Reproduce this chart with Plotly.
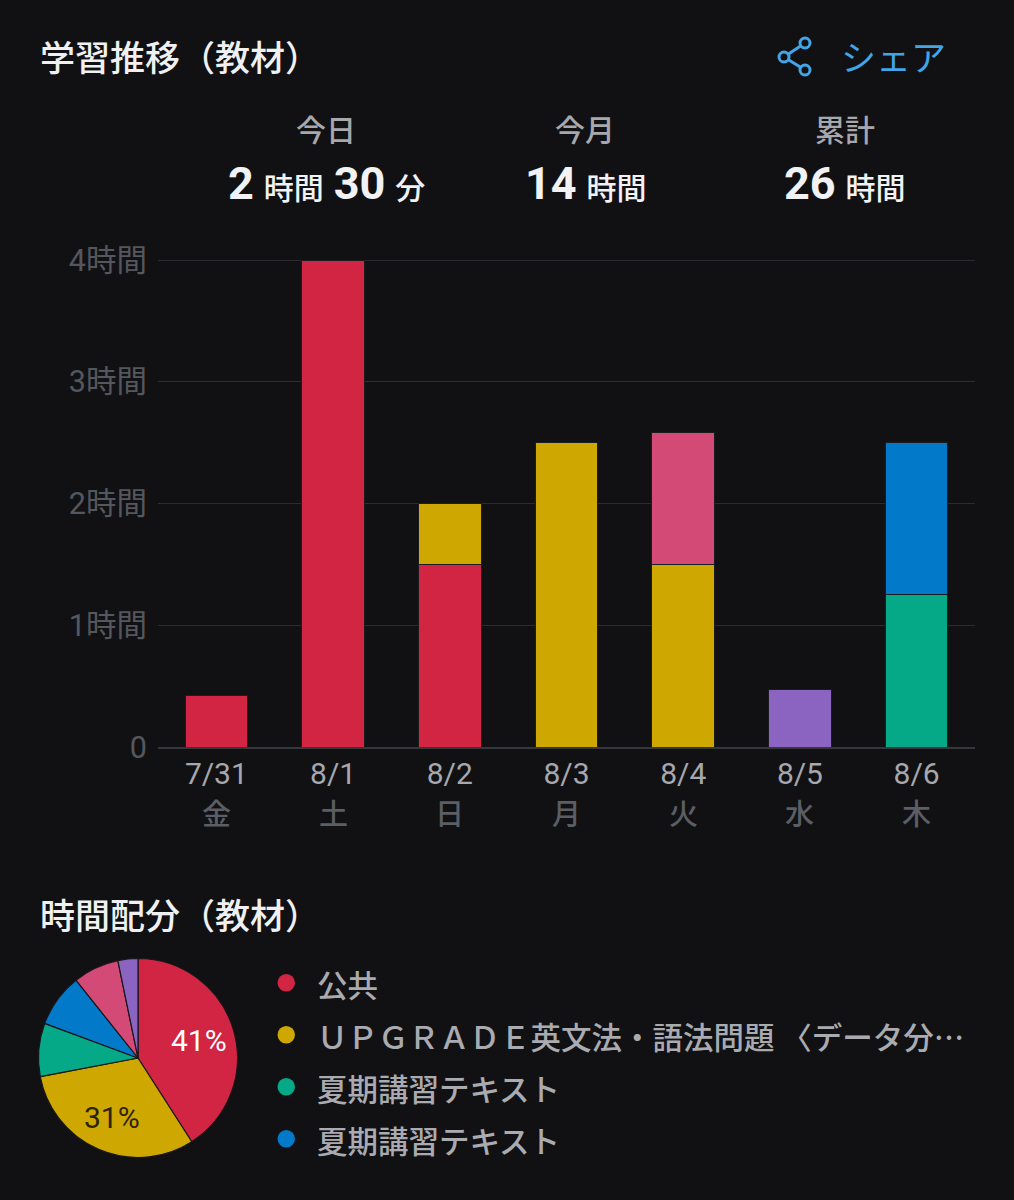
import plotly.graph_objects as go

W, H = 1014, 1200
FONT = "Roboto, 'Noto Sans CJK JP', sans-serif"
CJK = "'Noto Sans CJK JP', sans-serif"
BG = "#111114"

dates = ["7/31", "8/1", "8/2", "8/3", "8/4", "8/5", "8/6"]
weekdays = ["金", "土", "日", "月", "火", "水", "木"]
subject_names = ["公共", "ＵＰＧＲＡＤＥ英文法・語法問題 〈データ分…", "夏期講習テキスト", "夏期講習テキスト", "その他A", "その他B"]
subject_colors = ["#d12543", "#cea800", "#05a887", "#0279c9", "#d34a76", "#8b63c0"]

kokyo = [0.42, 4, 1.5, 0, 0, 0, 0]
upgrade = [0, 0, 0.5, 2.5, 1.5, 0, 0]
kaki1 = [0, 0, 0, 0, 0, 0, 1.25]
kaki2 = [0, 0, 0, 0, 0, 0, 1.25]
other_a = [0, 0, 0, 0, 1.08, 0, 0]
other_b = [0, 0, 0, 0, 0, 0.47, 0]
bar_series = [kokyo, upgrade, kaki1, kaki2, other_a, other_b]

y_ticks = [0, 1, 2, 3, 4]
y_labels = ["0", "1時間", "2時間", "3時間", "4時間"]
pie_values = [sum(s) for s in bar_series]
pie_labels = ["41%", "31%"]
legend_count = 4

stat_heads = ["今日", "今月", "累計"]


def px(x):
    return x / W


def py(y):
    return 1 - y / H


fig = go.Figure()
for name, vals, col in zip(subject_names, bar_series, subject_colors):
    fig.add_bar(x=dates, y=vals, name=name, marker=dict(color=col, line=dict(color="#1c1c20", width=1)),
                width=0.535, showlegend=False, xaxis="x", yaxis="y")

fig.add_pie(labels=[f"{i}" for i in range(len(pie_values))], values=pie_values, sort=False, direction="clockwise",
            rotation=0, marker=dict(colors=subject_colors, line=dict(color="#17171a", width=1.2)),
            textinfo="none",
            domain=dict(x=[px(38.5), px(237.5)], y=[py(1157.5), py(958.5)]), showlegend=False)


def note(x, y, text, size, color, anchor="left", weight=400, family=FONT):
    fig.add_annotation(x=px(x), y=py(y), xref="paper", yref="paper",
                       text=text, showarrow=False, xanchor=anchor, yanchor="middle", align=anchor,
                       font=dict(family=family, size=size, color=color, weight=weight))


note(38, 59, "学習推移（教材）", 35, "#f0f0f2", weight=500)
note(38, 917, "時間配分（教材）", 35, "#f0f0f2", weight=500)
note(839, 59, "シェア", 35, "#42a5e8")

for head, cx in zip(stat_heads, [326, 585, 845]):
    note(cx, 131, head, 30, "#a6a8ad", "center", 500)

big = "#f2f2f4"
GAP = "<span style='font-size:40px'>&nbsp;</span>"


def stat(cx, parts):
    html = "".join(
        f"<span style='font-size:{s}px;font-weight:{w}'>{t}</span>" if t != GAP else GAP for t, s, w in parts
    )
    note(cx, 183.5, html, 30, big, "center", 500)


stat(326, [("2", 45, 700), (GAP, 0, 0), ("時間", 30, 500), (GAP, 0, 0), ("30", 45, 700), (GAP, 0, 0), ("分", 30, 500)])
stat(586, [("14", 45, 700), (GAP, 0, 0), ("時間", 30, 500)])
stat(845, [("26", 45, 700), (GAP, 0, 0), ("時間", 30, 500)])

note(199, 1040, pie_labels[0], 30, "#ffffff", "center")
note(112, 1117, pie_labels[1], 30, "#2a2508", "center")

for d, w in zip(dates, weekdays):
    fig.add_annotation(x=d, y=py(815), xref="x", yref="paper", text=w, showarrow=False, yanchor="middle",
                       font=dict(family=FONT, size=29, color="#5b5e65", weight=500))

for i in range(legend_count):
    y = 985 + 52 * i
    note(315, y - 1, subject_names[i], 30.5, "#a9abb0", weight=500, family=CJK)
    fig.add_shape(type="circle", xref="paper", yref="paper", x0=px(277.5), x1=px(295), y0=py(y - 11), y1=py(y + 6.5),
                  fillcolor=subject_colors[i], line=dict(width=0))

# share icon
nodes = [(805, 43), (784, 57), (805, 70)]
icon = "#42a5e8"
for a, b in [(nodes[0], nodes[1]), (nodes[1], nodes[2])]:
    fig.add_shape(type="line", xref="paper", yref="paper", x0=px(a[0]), y0=py(a[1]), x1=px(b[0]), y1=py(b[1]),
                  line=dict(color=icon, width=3))
for n in nodes:
    fig.add_shape(type="circle", xref="paper", yref="paper", x0=px(n[0] - 5), x1=px(n[0] + 5), y0=py(n[1] + 5),
                  y1=py(n[1] - 5), fillcolor=BG, line=dict(color=icon, width=3))

fig.update_layout(
    width=W, height=H, margin=dict(l=0, r=0, t=0, b=0, autoexpand=False), paper_bgcolor=BG, plot_bgcolor=BG,
    barmode="stack", font=dict(family=FONT),
    xaxis=dict(domain=[px(158), px(975)], type="category", categoryorder="array", categoryarray=dates,
               tickfont=dict(family=FONT, size=30, color="#a6a8ad"), ticks="", showgrid=False,
               showline=True, linecolor="#35373b", linewidth=1.5, anchor="y", ticklabelstandoff=-1),
    yaxis=dict(domain=[py(747), py(258.8)], range=[0, 4.01], tickvals=y_ticks, ticktext=y_labels,
               tickfont=dict(family=FONT, size=30.5, color="#54575e"), ticks="", gridcolor="#2a2c30", gridwidth=1.2,
               zeroline=False, showline=False, ticklabelstandoff=10),
    hovermode=False,
)

fig.write_html("out.html", config=dict(displayModeBar=False), post_script="document.body.style.margin='0';")
